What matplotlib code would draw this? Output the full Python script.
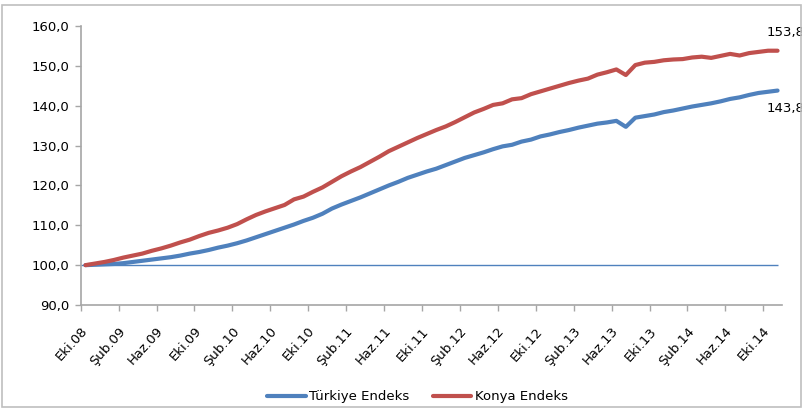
import numpy as np
import matplotlib
matplotlib.use("Agg")
import matplotlib.pyplot as plt
from matplotlib.patches import Rectangle
from matplotlib.transforms import ScaledTranslation

# monthly index, Eki.08 = 100 (Oct 2008 .. Nov 2014)
turkiye = [
    100.0, 100.1, 100.2, 100.3, 100.5, 100.8, 101.1, 101.4, 101.7, 102.0,
    102.4, 102.9, 103.3, 103.8, 104.4, 104.9, 105.5, 106.2, 107.0, 107.8,
    108.6, 109.4, 110.2, 111.1, 111.9, 112.9, 114.2, 115.2, 116.1, 117.0,
    118.0, 119.0, 120.0, 120.9, 121.9, 122.7, 123.5, 124.2, 125.1, 126.0,
    126.9, 127.6, 128.3, 129.1, 129.8, 130.2, 131.0, 131.5, 132.3, 132.8,
    133.4, 133.9, 134.5, 135.0, 135.5, 135.8, 136.2, 134.7, 137.0, 137.4,
    137.8, 138.4, 138.8, 139.3, 139.8, 140.2, 140.6, 141.1, 141.7, 142.1,
    142.7, 143.2, 143.5, 143.8,
]
konya = [
    100.0, 100.4, 100.8, 101.3, 101.9, 102.4, 102.9, 103.6, 104.2, 104.9,
    105.7, 106.4, 107.3, 108.1, 108.7, 109.4, 110.3, 111.5, 112.6, 113.5,
    114.3, 115.1, 116.5, 117.2, 118.4, 119.5, 120.9, 122.3, 123.5, 124.6,
    125.9, 127.2, 128.6, 129.7, 130.8, 131.9, 132.9, 133.9, 134.8, 135.9,
    137.1, 138.3, 139.2, 140.2, 140.6, 141.6, 141.9, 142.9, 143.6, 144.3,
    145.0, 145.7, 146.3, 146.8, 147.8, 148.4, 149.1, 147.7, 150.2, 150.8,
    151.0, 151.4, 151.6, 151.7, 152.1, 152.3, 152.0, 152.5, 153.0, 152.6,
    153.2, 153.5, 153.8, 153.8,
]
base_value = 100.0

tick_labels = ["Eki.08", "Şub.09", "Haz.09", "Eki.09", "Şub.10", "Haz.10", "Eki.10",
               "Şub.11", "Haz.11", "Eki.11", "Şub.12", "Haz.12", "Eki.12", "Şub.13",
               "Haz.13", "Eki.13", "Şub.14", "Haz.14", "Eki.14"]
label_step = 4

end_labels = ["153,8", "143,8"]

n = len(turkiye)
x = np.arange(n) + 0.5  # Excel style: points between tick marks

fig = plt.figure(figsize=(8.03, 4.16), dpi=100)
ax = fig.add_axes([0.1005, 0.2668, 0.8737, 0.6707])

blue = "#4F81BD"
red = "#C0504D"
grey = "#A6A6A6"

ax.hlines(base_value, 0, x[-1], color=blue, lw=1.0, zorder=2)
ax.plot(x, turkiye, color=blue, lw=3, solid_capstyle="round", label="Türkiye Endeks", zorder=3)
ax.plot(x, konya, color=red, lw=3, solid_capstyle="round", label="Konya Endeks", zorder=3)

ax.set_xlim(0, n)
ax.set_ylim(90, 160)
ax.set_yticks(np.arange(90, 161, 10))
ax.set_yticklabels([f"{v:.1f}".replace(".", ",") for v in np.arange(90, 161, 10)], fontsize=9.5)

# tick marks at category boundaries, labels at category centres
ax.set_xticks(np.arange(0, n, label_step), minor=True)
ax.set_xticks(np.arange(0, n, label_step) + 0.5)
ax.set_xticklabels(tick_labels, rotation=48, ha="right", rotation_mode="anchor", fontsize=9.5)
ax.tick_params(axis="x", which="major", length=0, pad=14)
ax.tick_params(axis="x", which="minor", length=4, color=grey, width=1)
ax.tick_params(axis="y", length=4, color=grey, width=1, pad=4)
shift = ScaledTranslation(-5 / 100, 0, fig.dpi_scale_trans)
for lbl in ax.get_xticklabels():
    lbl.set_transform(lbl.get_transform() + shift)

for s in ["top", "right"]:
    ax.spines[s].set_visible(False)
for s in ["left", "bottom"]:
    ax.spines[s].set_color(grey)
    ax.spines[s].set_linewidth(1.2)

ax.annotate(end_labels[0], (x[-1], konya[-1]), xytext=(-8, 13), textcoords="offset points",
            fontsize=9.5, va="center", ha="left", annotation_clip=False)
ax.annotate(end_labels[1], (x[-1], turkiye[-1]), xytext=(-8, -13), textcoords="offset points",
            fontsize=9.5, va="center", ha="left", annotation_clip=False)

fig.legend(loc="center", bbox_to_anchor=(0.52, 0.046), ncol=2, frameon=False,
           fontsize=9.5, handlelength=2.9, columnspacing=1.8, handletextpad=0.25)

fig.patches.append(Rectangle((2 / 803, 1 - 407 / 416), 799 / 803, 402 / 416,
                             transform=fig.transFigure, fill=False, ec="#BFBFBF", lw=1.2))

fig.savefig("out.png", dpi=100)
